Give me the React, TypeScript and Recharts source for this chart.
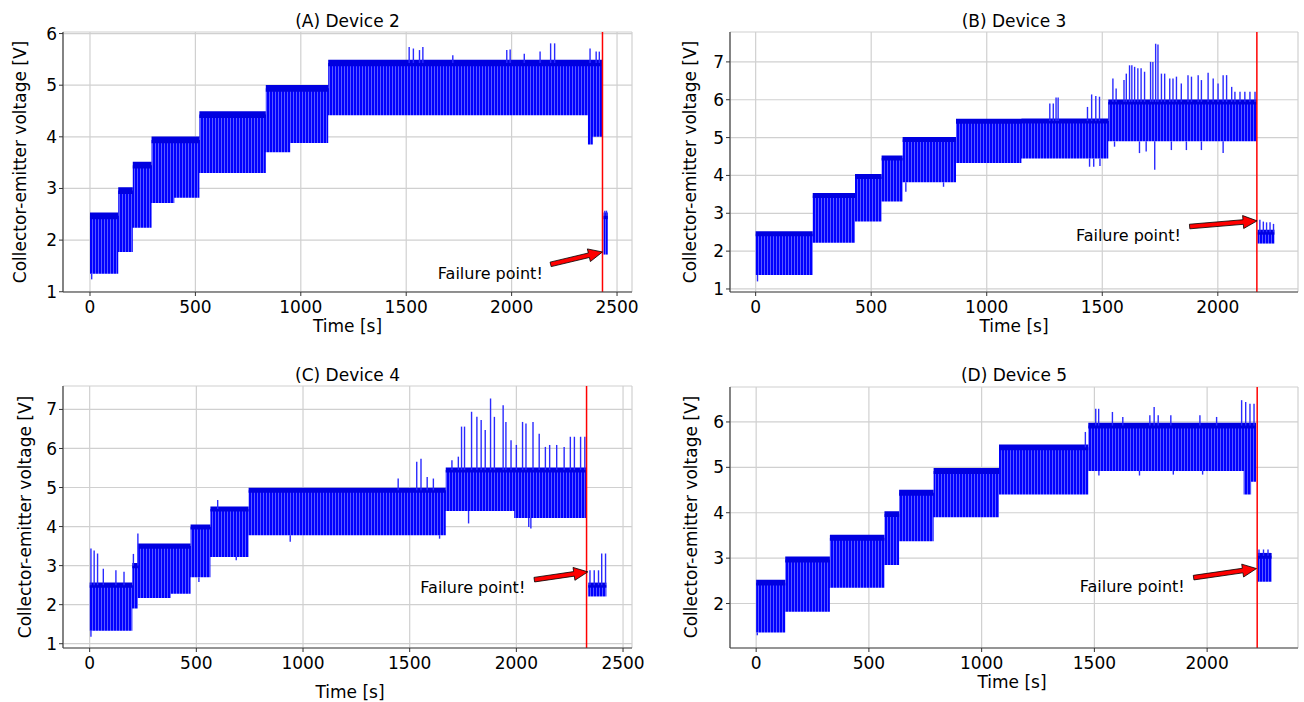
import React from 'react';
import {
    ComposedChart,
    Area,
    XAxis,
    YAxis,
    CartesianGrid,
    ReferenceLine,
    ReferenceDot
} from 'recharts';

// Device 2 — stages (start/end time, top level, bottom of the drops)
const d2Start = [0, 134, 203, 292, 400, 519, 834, 950, 1130, 2362, 2385, 2436];
const d2End = [134, 203, 292, 400, 519, 834, 950, 1130, 2362, 2385, 2430, 2456];
const d2High = [2.47, 2.96, 3.45, 3.94, 3.94, 4.43, 4.94, 4.94, 5.43, 5.43, 5.43, 2.47];
const d2Low = [1.35, 1.77, 2.24, 2.72, 2.82, 3.3, 3.7, 3.88, 4.42, 3.85, 4.0, 1.72];
const d2PeakT = [1514, 1534, 1563, 1579, 1721, 1977, 1993, 2060, 2135, 2185, 2204, 2372, 2401, 2416, 2442, 2450];
const d2PeakV = [5.74, 5.71, 5.68, 5.74, 5.58, 5.68, 5.69, 5.61, 5.65, 5.81, 5.81, 5.71, 5.65, 5.65, 2.57, 2.57];
const d2DipT = [8];
const d2DipV = [1.24];

// Device 3
const d3Start = [0, 247, 430, 545, 636, 867, 1150, 1526, 2172];
const d3End = [247, 430, 545, 636, 867, 1150, 1526, 2169, 2245];
const d3High = [2.46, 3.47, 3.97, 4.46, 4.95, 5.43, 5.44, 5.94, 2.5];
const d3Low = [1.37, 2.22, 2.78, 3.31, 3.82, 4.33, 4.45, 4.9, 2.2];
const d3PeakT = [1273, 1288, 1300, 1309, 1436, 1454, 1472, 1488, 1546, 1560, 1594, 1604, 1618, 1628, 1640, 1654, 1668, 1683, 1709, 1719, 1731, 1741, 1756, 1770, 1792, 1806, 1821, 1842, 1871, 1886, 1915, 1929, 1958, 1980, 2001, 2023, 2038, 2060, 2074, 2096, 2117, 2139, 2161, 2182, 2197, 2211, 2226, 2241];
const d3PeakV = [5.9, 5.9, 6.06, 6.06, 5.81, 6.14, 6.1, 6.08, 6.56, 6.3, 6.52, 6.69, 6.91, 6.91, 6.87, 6.83, 6.83, 6.74, 7.0, 7.0, 7.48, 7.46, 6.69, 6.69, 6.56, 6.56, 6.61, 6.43, 6.65, 6.61, 6.65, 6.52, 6.71, 6.56, 6.43, 6.65, 6.65, 6.34, 6.21, 6.21, 6.21, 6.21, 6.21, 2.83, 2.78, 2.76, 2.76, 2.72];
const d3DipT = [8, 650, 813, 1445, 1463, 1490, 1553, 1661, 1690, 1727, 1799, 1864, 1929, 2023];
const d3DipV = [1.2, 3.57, 3.7, 4.23, 4.23, 4.25, 4.76, 4.59, 4.63, 4.15, 4.67, 4.67, 4.67, 4.59];

// Device 4
const d4Start = [0, 200, 226, 380, 473, 566, 745, 1669, 1990, 2337];
const d4End = [200, 226, 380, 473, 566, 745, 1669, 1990, 2331, 2422];
const d4High = [2.5, 3.0, 3.5, 3.5, 3.99, 4.45, 4.93, 5.45, 5.45, 2.5];
const d4Low = [1.33, 1.9, 2.17, 2.28, 2.7, 3.22, 3.78, 4.4, 4.22, 2.21];
const d4PeakT = [6, 21, 37, 64, 123, 161, 205, 226, 600, 1446, 1533, 1553, 1582, 1611, 1698, 1728, 1743, 1757, 1790, 1815, 1835, 1854, 1879, 1897, 1938, 1951, 1975, 2000, 2029, 2045, 2078, 2107, 2136, 2156, 2189, 2224, 2253, 2272, 2301, 2321, 2345, 2365, 2385, 2400, 2418];
const d4PeakV = [3.44, 3.39, 3.31, 2.92, 2.88, 2.84, 3.3, 3.82, 4.68, 5.23, 5.66, 5.74, 5.27, 5.23, 5.7, 5.79, 6.56, 6.56, 6.94, 6.81, 6.73, 6.47, 7.28, 6.81, 7.11, 6.68, 6.21, 6.09, 6.68, 6.64, 6.68, 6.38, 6.04, 6.09, 6.09, 6.04, 6.3, 6.3, 6.3, 6.3, 2.88, 2.88, 2.88, 3.31, 3.31];
const d4DipT = [6, 512, 687, 940, 1640, 1776, 2058, 2068];
const d4DipV = [1.18, 2.58, 3.14, 3.61, 3.69, 4.08, 3.99, 3.95];

// Device 5
const d5Start = [0, 129, 327, 569, 634, 787, 1077, 1473, 2162, 2195, 2223];
const d5End = [129, 327, 569, 634, 787, 1077, 1473, 2162, 2195, 2217, 2286];
const d5High = [2.46, 2.97, 3.45, 3.97, 4.44, 4.92, 5.44, 5.92, 5.92, 5.92, 3.05];
const d5Low = [1.36, 1.82, 2.35, 2.85, 3.37, 3.9, 4.4, 4.92, 4.4, 4.68, 2.48];
const d5PeakT = [1460, 1506, 1519, 1580, 1626, 1746, 1765, 1783, 1839, 1968, 2042, 2153, 2171, 2190, 2208, 2230, 2250, 2270];
const d5PeakV = [5.78, 6.29, 6.29, 6.22, 6.11, 6.15, 6.33, 6.15, 6.15, 6.15, 6.11, 6.48, 6.44, 6.4, 6.4, 3.19, 3.19, 3.19];
const d5DipT = [5, 1520, 1700, 1850, 1980];
const d5DipV = [1.3, 4.82, 4.82, 4.84, 4.84];

// failure marker: red line, arrow tail -> head, text centre
const failTime = [2431, 2169, 2329, 2222];
const arrowFrom = [[2185, 1.53], [1878, 2.65], [2084, 2.64], [1940, 2.57]];
const arrowTo = [[2431, 1.77], [2170, 2.8], [2335, 2.84], [2219, 2.77]];
const noteAt = [[1899, 1.36], [1613, 2.43], [1796, 2.45], [1668, 2.37]];

const titles = ['(A) Device 2', '(B) Device 3', '(C) Device 4', '(D) Device 5'];

const font = 'DejaVu Sans';
const capHalf = 0.065; // half height of the dense band at the top of each step

function buildBlocks(start: number[], end: number[], high: number[], low: number[]) {
    const blocks: any[][] = [];
    let rows: any[] = [];
    const row = (t: number, i: number) => ({
        t,
        band: [low[i], high[i]],
        cap: [high[i] - capHalf, high[i] + capHalf]
    });
    start.forEach((s, i) => {
        rows.push(row(s, i));
        const next = start[i + 1];
        if (next === undefined || next !== end[i]) {
            rows.push(row(end[i], i));
            blocks.push(rows);
            rows = [];
        }
    });
    return blocks;
}

function levelAt(start: number[], end: number[], levels: number[], t: number) {
    for (let i = 0; i < start.length; i++) {
        if (t >= start[i] && t <= end[i]) return levels[i];
    }
    return levels[levels.length - 1];
}

const Arrow = (props: any) => {
    const { x1, y1, x2, y2 } = props;
    const dx = x2 - x1;
    const dy = y2 - y1;
    const len = Math.hypot(dx, dy) || 1;
    const ux = dx / len, uy = dy / len;
    const nx = -uy, ny = ux;
    const w = 2.3, hw = 6.5, hl = 14;
    const bx = x2 - ux * hl, by = y2 - uy * hl;
    const pts = [
        [x1 + nx * w, y1 + ny * w],
        [bx + nx * w, by + ny * w],
        [bx + nx * hw, by + ny * hw],
        [x2, y2],
        [bx - nx * hw, by - ny * hw],
        [bx - nx * w, by - ny * w],
        [x1 - nx * w, y1 - ny * w]
    ];
    return <polygon points={pts.map(p => p.join(',')).join(' ')} fill="#ff0000" stroke="#000" strokeWidth={0.8} />;
};

const panels = [
    {
        id: 'a', start: d2Start, end: d2End, high: d2High, low: d2Low,
        peakT: d2PeakT, peakV: d2PeakV, dipT: d2DipT, dipV: d2DipV,
        xDomain: [-128, 2571], yDomain: [0.995, 6.03],
        xTicks: [0, 500, 1000, 1500, 2000, 2500], yTicks: [1, 2, 3, 4, 5, 6],
        left: 0, top: 0, width: 652, height: 350, yWidth: 63,
        margin: { top: 32, right: 20, bottom: 28, left: 0 },
        titleXY: [347.5, 20.5], yLabelXY: [20, 162], xLabelXY: [347.5, 326]
    },
    {
        id: 'b', start: d3Start, end: d3End, high: d3High, low: d3Low,
        peakT: d3PeakT, peakV: d3PeakV, dipT: d3DipT, dipV: d3DipV,
        xDomain: [-111, 2347], yDomain: [0.92, 7.79],
        xTicks: [0, 500, 1000, 1500, 2000], yTicks: [1, 2, 3, 4, 5, 6, 7],
        left: 660, top: 0, width: 644, height: 350, yWidth: 70,
        margin: { top: 32, right: 6, bottom: 28, left: 0 },
        titleXY: [1014, 20.5], yLabelXY: [690, 162], xLabelXY: [1014, 326]
    },
    {
        id: 'c', start: d4Start, end: d4End, high: d4High, low: d4Low,
        peakT: d4PeakT, peakV: d4PeakV, dipT: d4DipT, dipV: d4DipV,
        xDomain: [-125, 2542], yDomain: [0.89, 7.6],
        xTicks: [0, 500, 1000, 1500, 2000, 2500], yTicks: [1, 2, 3, 4, 5, 6, 7],
        left: 0, top: 350, width: 652, height: 352, yWidth: 63,
        margin: { top: 36, right: 20, bottom: 24, left: 0 },
        titleXY: [347.5, 375], yLabelXY: [25, 517], xLabelXY: [350, 692]
    },
    {
        id: 'd', start: d5Start, end: d5End, high: d5High, low: d5Low,
        peakT: d5PeakT, peakV: d5PeakV, dipT: d5DipT, dipV: d5DipV,
        xDomain: [-116, 2403], yDomain: [1.02, 6.77],
        xTicks: [0, 500, 1000, 1500, 2000], yTicks: [2, 3, 4, 5, 6],
        left: 660, top: 350, width: 644, height: 352, yWidth: 70,
        margin: { top: 37, right: 6, bottom: 24, left: 0 },
        titleXY: [1014, 375], yLabelXY: [691, 517], xLabelXY: [1012, 682]
    }
];

const Txt: React.FC<{ x: number; y: number; rotate?: boolean; children: React.ReactNode }> = ({ x, y, rotate, children }) => (
    <div
        style={{
            position: 'absolute',
            left: x,
            top: y,
            transform: `translate(-50%, -50%)${rotate ? ' rotate(-90deg)' : ''}`,
            whiteSpace: 'nowrap',
            fontSize: 17,
            lineHeight: '20px',
            color: '#000',
            fontFamily: font
        }}
    >
        {children}
    </div>
);

export default function App() {
    return (
        <div style={{ position: 'absolute', left: 0, top: 0, width: 1304, height: 702, background: '#fff', fontFamily: font }}>
            {panels.map((p, k) => {
                const blocks = buildBlocks(p.start, p.end, p.high, p.low);
                return (
                    <div key={p.id} style={{ position: 'absolute', left: p.left, top: p.top }}>
                        <ComposedChart width={p.width} height={p.height} margin={p.margin}>
                            <defs>
                                <pattern id={`stripe-${p.id}`} width={3} height={6} patternUnits="userSpaceOnUse">
                                    <rect width={3} height={6} fill="#5a5aff" />
                                    <rect width={2} height={6} fill="#0000ff" />
                                </pattern>
                            </defs>
                            <CartesianGrid stroke="#d0d0d0" strokeWidth={1.2} />
                            <XAxis
                                dataKey="t"
                                type="number"
                                domain={p.xDomain}
                                ticks={p.xTicks}
                                allowDataOverflow
                                height={30}
                                tickSize={4}
                                tickMargin={5}
                                axisLine={{ stroke: '#444', strokeWidth: 1.2 }}
                                tickLine={{ stroke: '#333' }}
                                tick={{ fontSize: 17, fill: '#000', fontFamily: font }}
                            />
                            <XAxis
                                xAxisId="top"
                                orientation="top"
                                type="number"
                                domain={p.xDomain}
                                allowDataOverflow
                                height={0}
                                tick={false}
                                tickLine={false}
                                axisLine={{ stroke: '#444', strokeWidth: 1.2 }}
                            />
                            <YAxis
                                type="number"
                                domain={p.yDomain}
                                ticks={p.yTicks}
                                allowDataOverflow
                                width={p.yWidth}
                                tickSize={4}
                                tickMargin={2}
                                axisLine={{ stroke: '#444', strokeWidth: 1.2 }}
                                tickLine={{ stroke: '#333' }}
                                tick={{ fontSize: 17, fill: '#000', fontFamily: font }}
                            />
                            <YAxis
                                yAxisId="right"
                                orientation="right"
                                type="number"
                                domain={p.yDomain}
                                allowDataOverflow
                                width={0}
                                tick={false}
                                tickLine={false}
                                axisLine={{ stroke: '#444', strokeWidth: 1.2 }}
                            />
                            {blocks.map((rows, i) => (
                                <Area
                                    key={`band-${i}`}
                                    data={rows}
                                    dataKey="band"
                                    type="stepAfter"
                                    fill={`url(#stripe-${p.id})`}
                                    fillOpacity={1}
                                    stroke="none"
                                    isAnimationActive={false}
                                />
                            ))}
                            {blocks.map((rows, i) => (
                                <Area
                                    key={`cap-${i}`}
                                    data={rows}
                                    dataKey="cap"
                                    type="stepAfter"
                                    fill="#0000e0"
                                    fillOpacity={1}
                                    stroke="none"
                                    isAnimationActive={false}
                                />
                            ))}
                            {p.peakT.map((t, i) => (
                                <ReferenceLine
                                    key={`pk-${i}`}
                                    segment={[
                                        { x: t, y: levelAt(p.start, p.end, p.high, t) },
                                        { x: t, y: p.peakV[i] }
                                    ]}
                                    stroke="#2a2aff"
                                    strokeWidth={1.4}
                                />
                            ))}
                            {p.dipT.map((t, i) => (
                                <ReferenceLine
                                    key={`dp-${i}`}
                                    segment={[
                                        { x: t, y: levelAt(p.start, p.end, p.low, t) },
                                        { x: t, y: p.dipV[i] }
                                    ]}
                                    stroke="#2a2aff"
                                    strokeWidth={1.4}
                                />
                            ))}
                            <ReferenceLine x={failTime[k]} stroke="#ff0000" strokeWidth={1.5} />
                            <ReferenceLine
                                segment={[
                                    { x: arrowFrom[k][0], y: arrowFrom[k][1] },
                                    { x: arrowTo[k][0], y: arrowTo[k][1] }
                                ]}
                                shape={Arrow}
                            />
                            <ReferenceDot
                                x={noteAt[k][0]}
                                y={noteAt[k][1]}
                                r={0}
                                stroke="none"
                                label={{ value: 'Failure point!', position: 'center', fontSize: 16, fill: '#000', fontFamily: font }}
                            />
                        </ComposedChart>
                    </div>
                );
            })}
            {panels.map((p, k) => (
                <React.Fragment key={`txt-${p.id}`}>
                    <Txt x={p.titleXY[0]} y={p.titleXY[1]}>{titles[k]}</Txt>
                    <Txt x={p.yLabelXY[0]} y={p.yLabelXY[1]} rotate>Collector-emitter voltage [V]</Txt>
                    <Txt x={p.xLabelXY[0]} y={p.xLabelXY[1]}>Time [s]</Txt>
                </React.Fragment>
            ))}
        </div>
    );
}
